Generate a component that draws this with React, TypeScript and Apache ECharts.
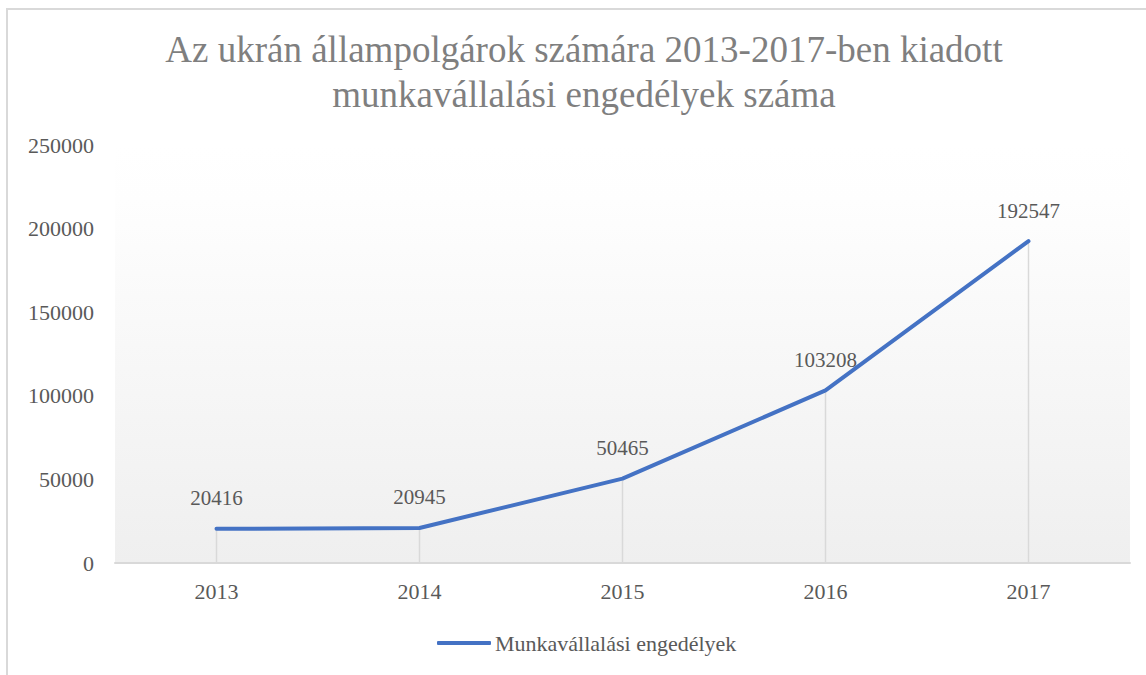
import React, { useEffect, useRef } from "react";
import * as echarts from "echarts";

const titleText = "Az ukrán állampolgárok számára 2013-2017-ben kiadott\nmunkavállalási engedélyek száma";
const seriesName = "Munkavállalási engedélyek";
const years = ["2013", "2014", "2015", "2016", "2017"];
const permits = [20416, 20945, 50465, 103208, 192547];
const yMin = 0;
const yMax = 250000;
const yInterval = 50000;

const FONT = "'Liberation Serif', 'Times New Roman', serif";

export default function App() {
  const ref = useRef<HTMLDivElement>(null);

  useEffect(() => {
    if (!ref.current) return;
    const chart = echarts.init(ref.current, null, { renderer: "svg" });
    chart.setOption({
      animation: false,
      backgroundColor: "#ffffff",
      textStyle: { fontFamily: FONT },
      title: {
        text: titleText,
        left: 584,
        textAlign: "center",
        top: 27,
        padding: 0,
        textStyle: {
          fontFamily: FONT,
          fontSize: 37,
          fontWeight: "normal",
          color: "#7f7f7f",
          lineHeight: 45,
        },
      },
      graphic: [
        {
          type: "rect",
          shape: { x: 7, y: 9, width: 1300, height: 1000 },
          style: { fill: "none", stroke: "#d9d9d9", lineWidth: 2 },
          silent: true,
          z: -10,
        },
      ],
      grid: {
        left: 115,
        right: 16,
        top: 145,
        bottom: 112,
        show: true,
        borderWidth: 0,
        backgroundColor: {
          type: "linear",
          x: 0,
          y: 0,
          x2: 0,
          y2: 1,
          colorStops: [
            { offset: 0, color: "#ffffff" },
            { offset: 0.13, color: "#fefefe" },
            { offset: 1, color: "#efefef" },
          ],
        },
      },
      legend: {
        data: [seriesName],
        left: 432,
        top: 627,
        icon: "roundRect",
        itemWidth: 54,
        itemHeight: 4,
        itemStyle: { color: "#4472C4" },
        textStyle: { fontFamily: FONT, fontSize: 22, color: "#595959", padding: [0, 0, 0, -1] },
      },
      xAxis: {
        type: "category",
        data: years,
        boundaryGap: true,
        axisLine: { show: true, lineStyle: { color: "#d9d9d9", width: 2 } },
        axisTick: { show: false },
        splitLine: { show: false },
        axisLabel: {
          fontFamily: FONT,
          fontSize: 22,
          color: "#595959",
          margin: 17,
        },
      },
      yAxis: {
        type: "value",
        min: yMin,
        max: yMax,
        interval: yInterval,
        axisLine: { show: false },
        axisTick: { show: false },
        splitLine: { show: false },
        axisLabel: {
          fontFamily: FONT,
          fontSize: 22,
          color: "#595959",
          margin: 21,
          formatter: (v: number) => String(v),
        },
      },
      series: [
        {
          name: "drop",
          type: "bar",
          data: permits,
          barWidth: 1.5,
          silent: true,
          itemStyle: { color: "#d9d9d9" },
          z: 1,
        },
        {
          name: seriesName,
          type: "line",
          data: permits,
          symbol: "circle",
          symbolSize: 2,
          showSymbol: true,
          itemStyle: { color: "#4472C4" },
          lineStyle: { color: "#4472C4", width: 4, cap: "round", join: "round" },
          label: {
            show: true,
            position: "top",
            distance: 19,
            fontFamily: FONT,
            fontSize: 21,
            color: "#595959",
          },
          z: 3,
        },
      ],
    });
    return () => chart.dispose();
  }, []);

  return (
    <div
      ref={ref}
      style={{ position: "absolute", left: 0, top: 0, width: 1146, height: 675 }}
    />
  );
}
